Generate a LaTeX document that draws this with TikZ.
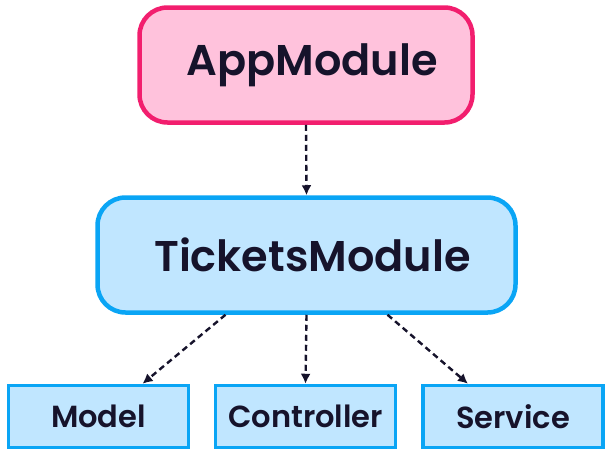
\documentclass[tikz,border=0pt]{standalone}
\usepackage{fontspec}
\setmainfont{Poppins}[BoldFont={Poppins SemiBold}]
\usepackage{xcolor}
\usetikzlibrary{arrows.meta}

\definecolor{ink}{HTML}{16132B}
\definecolor{appfill}{HTML}{FFC2DC}
\definecolor{appdraw}{HTML}{F21E6E}
\definecolor{tktfill}{HTML}{C0E6FF}
\definecolor{tktdraw}{HTML}{0AA5F5}

\begin{document}
\begin{tikzpicture}[x=1pt, y=-1pt,
  modbox/.style={draw, rounded corners=28pt, line width=4.5pt, minimum height=115pt,
    text=ink, font=\fontsize{43}{50}\selectfont\bfseries},
  partbox/.style={draw=tktdraw, fill=tktfill, line width=3.5pt, minimum width=180pt,
    minimum height=62pt, text=ink, font=\fontsize{30.5}{36}\selectfont\bfseries},
  dep/.style={ink, line width=2.4pt, dash pattern=on 6pt off 4pt,
    -{Latex[length=10pt, width=10pt]}}]
  \useasboundingbox (0,0) rectangle (610,451);

  % modules
  \node[modbox, draw=appdraw, fill=appfill, minimum width=333pt] (app) at (306,65) {\hspace*{12pt}AppModule};
  \node[modbox, draw=tktdraw, fill=tktfill, minimum width=418pt] (tickets) at (306.5,255) {\hspace*{12pt}TicketsModule};

  % parts of the tickets module
  \node[partbox] (model)      at (98.5,416.5) {Model};
  \node[partbox] (controller) at (305.5,416.5) {Controller};
  \node[partbox] (service)    at (513,416.5) {Service};

  \draw[dep] (app.south) -- (tickets.north);
  \draw[dep] ([xshift=-81pt]tickets.south) -- ([xshift=44pt]model.north);
  \draw[dep] (tickets.south) -- (controller.north);
  \draw[dep] ([xshift=81pt]tickets.south) -- ([xshift=-45pt]service.north);
\end{tikzpicture}
\end{document}
